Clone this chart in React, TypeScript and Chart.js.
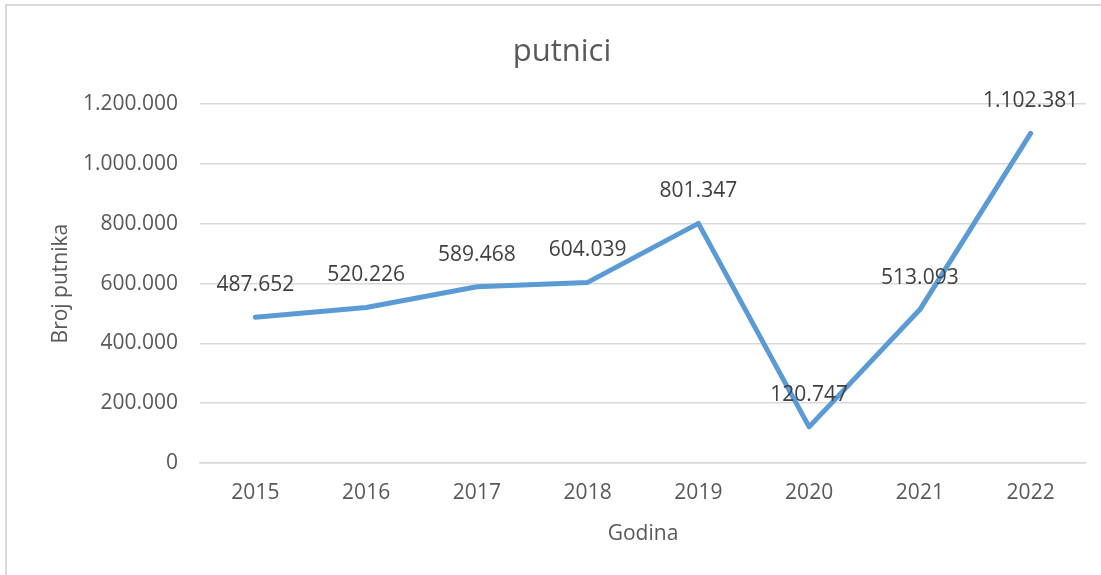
import React, { useEffect, useRef } from "react";
import { Chart, registerables } from "chart.js";

Chart.register(...registerables);

const categories = ["2015", "2016", "2017", "2018", "2019", "2020", "2021", "2022"];
const putnici = [487652, 520226, 589468, 604039, 801347, 120747, 513093, 1102381];
const yTicksMax = 1200000;
const yTickStep = 200000;

const FONT = "'Open Sans', 'Noto Sans', sans-serif";
const TEXT = "#595959";

const fmt = (v: number) => String(Math.round(v)).replace(/\B(?=(\d{3})+(?!\d))/g, ".");

const labelPlugin = {
  id: "pointLabels",
  afterDatasetsDraw(chart: any) {
    const ctx = chart.ctx;
    const meta = chart.getDatasetMeta(0);
    const data = chart.data.datasets[0].data as number[];
    ctx.save();
    ctx.font = `21px ${FONT}`;
    ctx.fillStyle = "#404040";
    ctx.textAlign = "center";
    ctx.textBaseline = "middle";
    meta.data.forEach((pt: any, i: number) => {
      ctx.fillText(fmt(data[i]), pt.x, pt.y - 32);
    });
    ctx.restore();
  },
};

export default function App() {
  const ref = useRef<HTMLCanvasElement>(null);
  useEffect(() => {
    if (!ref.current) return;
    const chart = new Chart(ref.current, {
      type: "line",
      data: {
        labels: categories,
        datasets: [
          {
            label: "putnici",
            data: putnici,
            borderColor: "#5B9BD5",
            backgroundColor: "#5B9BD5",
            borderWidth: 5,
            borderCapStyle: "round",
            borderJoinStyle: "round",
            pointRadius: 0,
            tension: 0,
          },
        ],
      },
      options: {
        animation: false,
        responsive: false,
        devicePixelRatio: 1,
        layout: { padding: { left: 38, right: 0, top: 0, bottom: 0 } },
        plugins: {
          legend: { display: false },
          tooltip: { enabled: false },
          title: {
            display: true,
            text: "putnici",
            color: TEXT,
            font: { family: FONT, size: 31, weight: "normal" },
            padding: { top: 34, bottom: 33 },
          },
        },
        scales: {
          x: {
            type: "category",
            offset: true,
            grid: { display: false, drawTicks: false },
            border: { display: true, color: "#d9d9d9", width: 1.5 },
            ticks: { color: TEXT, font: { family: FONT, size: 21 }, padding: 17, maxRotation: 0 },
            title: {
              display: true,
              text: "Godina",
              color: TEXT,
              font: { family: FONT, size: 21 },
              padding: { top: 0, bottom: 28 },
            },
            afterFit: (s: any) => {
              s.height = 112;
            },
          },
          y: {
            min: 0,
            max: yTicksMax,
            grid: { color: "#d9d9d9", lineWidth: 1.5, drawTicks: false },
            border: { display: false },
            ticks: {
              stepSize: yTickStep,
              color: TEXT,
              font: { family: FONT, size: 21 },
              padding: 22,
              callback: (v: any) => fmt(Number(v)),
            },
            title: {
              display: true,
              text: "Broj putnika",
              color: TEXT,
              font: { family: FONT, size: 21 },
              padding: { top: 10, bottom: 0 },
            },
            afterFit: (s: any) => {
              s.width = 162;
            },
          },
        },
      },
      plugins: [labelPlugin],
    });
    return () => chart.destroy();
  }, []);

  return (
    <div style={{ position: "absolute", left: 0, top: 0, width: 1101, height: 575, background: "#fff", overflow: "hidden" }}>
      <div
        style={{
          position: "absolute",
          left: 5,
          top: 4,
          width: 1200,
          height: 700,
          borderLeft: "2px solid #d9d9d9",
          borderTop: "2px solid #d9d9d9",
        }}
      />
      <canvas ref={ref} width={1086} height={575} style={{ position: "absolute", left: 0, top: 0 }} />
    </div>
  );
}
